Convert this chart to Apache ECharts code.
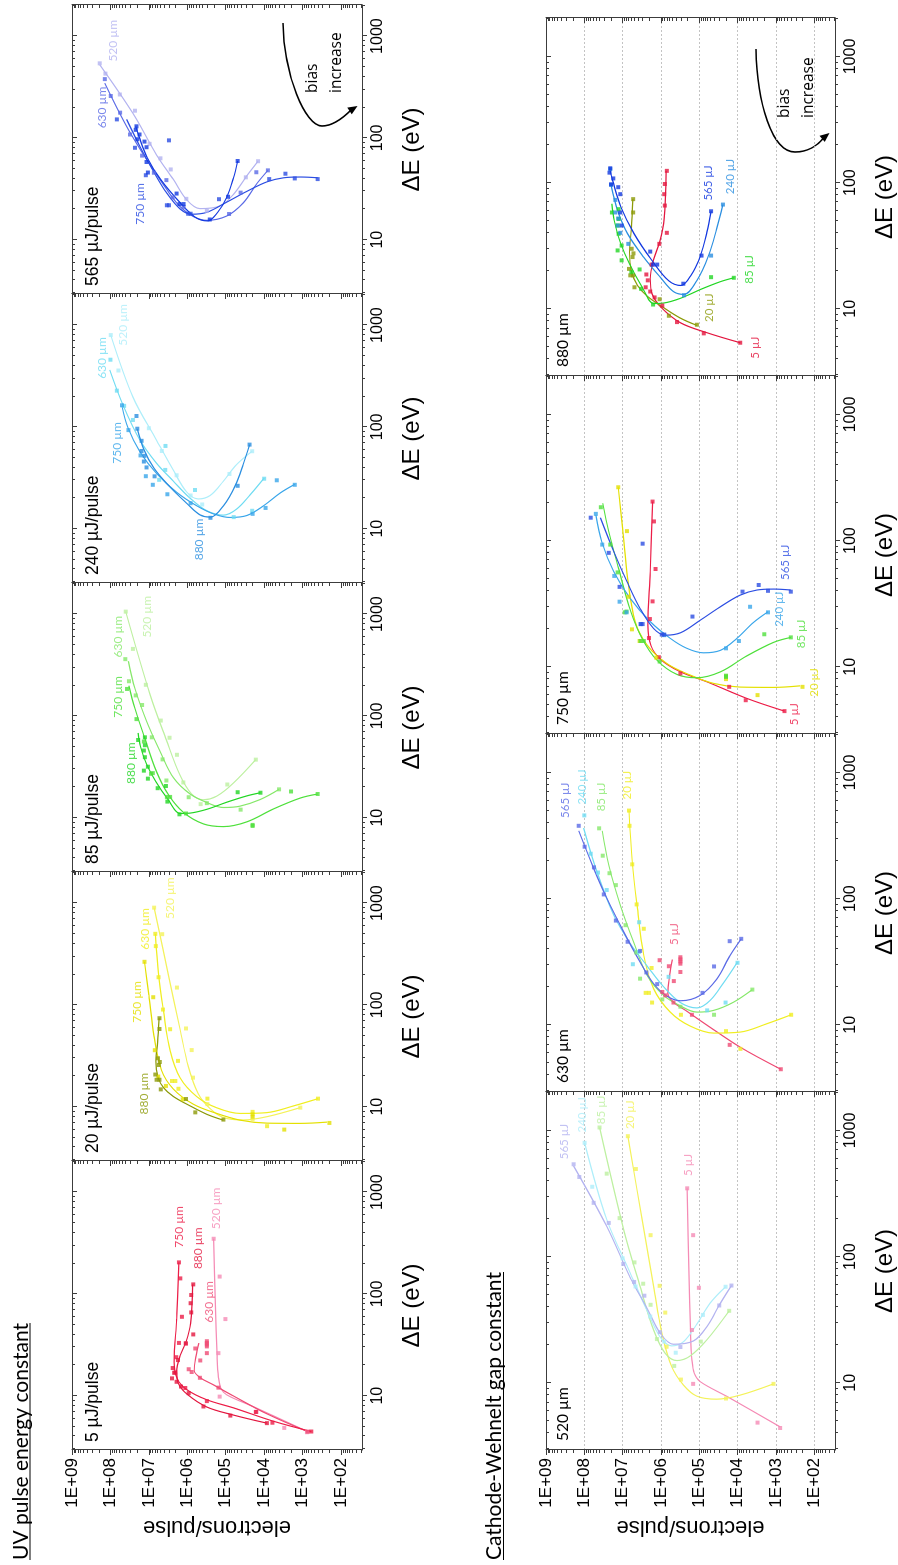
<!DOCTYPE html>
<html><head><meta charset="utf-8">
<script src="https://cdn.jsdelivr.net/npm/echarts@6/dist/echarts.min.js"></script>
<style>
html,body{margin:0;padding:0;background:#fff;width:898px;height:1565px;overflow:hidden}
#chart{position:absolute;left:0;top:1565px;width:1565px;height:898px;transform-origin:0 0;transform:rotate(-90deg);background:#fff}
</style></head><body><div id="chart"></div>
<script>
// ---------- categories / ticks ----------
const energies = ['5', '20', '85', '240', '565'];
const gaps = ['520', '630', '750', '880'];
const energyTitles = ['5 µJ/pulse', '20 µJ/pulse', '85 µJ/pulse', '240 µJ/pulse', '565 µJ/pulse'];
const gapTitles = ['520 µm', '630 µm', '750 µm', '880 µm'];
const xMajor = [10, 100, 1000];
const xTickLabels = ['10', '100', '1000'];
const xMinor = [3,4,5,6,7,8,9,20,30,40,50,60,70,80,90,200,300,400,500,600,700,800,900,2000];
const yMajor = [1e2, 1e3, 1e4, 1e5, 1e6, 1e7, 1e8, 1e9];
const yTickLabels = ['1E+02','1E+03','1E+04','1E+05','1E+06','1E+07','1E+08','1E+09'];

// ---------- data: [ΔE (eV), electrons/pulse] ----------
// 5 µJ
const pts_5_520 = [[4.38,771],[4.83,3000],[9.8,1.44e5],[26.2,1.55e5],[56.6,1.02e5],[148,1.44e5],[348,2.06e5]];
const fit_5_520 = [[4.47,771],[7.8,1.9e4],[10.2,9.4e4],[11.9,1.35e5],[15.2,1.55e5],[24.7,1.68e5],[79,1.86e5],[348,2.06e5]];
const pts_5_630 = [[4.44,741],[6.93,1.6e4],[12,1.55e5],[15,4.7e5],[17.1,7.7e5],[18.2,9.2e5],[22.2,4.6e5],[29.1,6.2e5],[32.5,1.08e6],[26.2,3.1e5],[30.5,3.1e5],[31.8,3.1e5],[33,3.1e5],[34.3,3.1e5]];
const fit_5_630 = [[4.44,741],[6.64,8.5e3],[9.94,6.3e4],[12.8,2.1e5],[15.1,4.7e5],[17.7,6.6e5],[24.7,5.9e5],[32.9,5.0e5]];
const pts_5_750 = [[4.45,594],[5.43,6.1e3],[6.93,1.65e4],[8.85,3.1e5],[11.9,1.13e6],[16.9,2.05e6],[23.9,1.94e6],[33,1.65e6],[59.6,1.38e6],[142,1.52e6],[204,1.65e6]];
const fit_5_750 = [[4.45,594],[5.61,5.7e3],[7.6,6.3e4],[9.12,3.1e5],[11.5,1.04e6],[14.7,1.82e6],[21.4,2.2e6],[56.8,1.9e6],[204,1.65e6]];
const pts_5_880 = [[5.38,8.5e3],[6.38,7.6e4],[7.84,3.8e5],[10.6,9.2e5],[12.3,1.46e6],[13.7,1.9e6],[14.8,2.5e6],[16.8,2.2e6],[18.7,2.4e6],[22.4,1.75e6],[32.7,1.1e6],[40,7.0e5],[65.8,7.9e5],[81,8.2e5],[97.5,7.9e5],[124,7.0e5]];
const fit_5_880 = [[5.38,8.5e3],[6.46,6.3e4],[7.75,3.1e5],[10.3,1e6],[13.1,1.7e6],[17.3,1.9e6],[24.6,1.55e6],[33.7,1.08e6],[51.5,8.2e5],[124,7.3e5]];
// 20 µJ
const pts_20_520 = [[9.8,1150],[7.5,2.0e4],[10.6,3.0e5],[19.3,7.1e5],[36,7.7e5],[58.7,1.08e6],[148,1.86e6],[495,4.5e6],[902,7.3e6]];
const fit_20_520 = [[9.8,1150],[7.98,8.5e3],[7.41,3.5e4],[7.83,1.15e5],[9.58,2.56e5],[13.4,5.2e5],[24.7,9.4e5],[58,1.55e6],[197,3.1e6],[902,7.3e6]];
const pts_20_630 = [[12,398],[8.9,2.0e4],[6.44,8.4e3],[12,3.0e5],[15,1.7e6],[17.9,2.5e6],[17.9,2.05e6],[28.2,1.75e6],[57.7,2.8e6],[90,4.3e6],[187,5.6e6],[378,6.6e6],[499,6.8e6]];
const fit_20_630 = [[12,398],[10.2,1.7e3],[8.75,8.5e3],[8.59,4.2e4],[9.76,1.72e5],[12.6,5.7e5],[19.3,1.55e6],[35.6,2.8e6],[89,4.2e6],[197,5.6e6],[499,6.8e6]];
const pts_20_750 = [[6.93,201],[5.96,3.0e3],[7.98,2.0e4],[8.4,2.0e4],[11.8,1.32e6],[16,3.6e6],[19.8,5.7e6],[35.9,7.0e6],[119,7.7e6],[265,1.3e7]];
const fit_20_750 = [[7.06,232],[6.86,1150],[6.9,8.5e3],[7.38,4.2e4],[8.59,1.72e5],[10.6,7.0e5],[14.9,2.3e6],[22.8,4.7e6],[50,7.4e6],[125,1e7],[265,1.3e7]];
const pts_20_880 = [[7.47,1.15e5],[8.8,6.2e5],[11.9,1.08e6],[14.8,4.9e6],[18.4,6.3e6],[18.4,5.3e6],[20.7,6.8e6],[25.7,5.5e6],[27.5,5.2e6],[29.9,5.8e6],[58,5.3e6],[74,5.3e6]];
const fit_20_880 = [[7.38,1.15e5],[8.43,3.1e5],[10.2,8.5e5],[12.6,2.3e6],[15.3,4.1e6],[19.5,5.8e6],[28.1,6.6e6],[43,5.9e6],[74,5.4e6]];
// 85 µJ
const pts_85_520 = [[37.2,1.65e4],[21.2,9.1e4],[13.6,4.5e5],[22.2,1.27e6],[41.5,1.86e6],[61,2.9e6],[90,4.9e6],[202,1.2e7],[455,2.6e7],[1057,4.0e7]];
const fit_85_520 = [[37.2,1.65e4],[21.9,6.3e4],[16.3,1.72e5],[15,3.8e5],[17.1,7.7e5],[26.2,1.55e6],[58,3.5e6],[164,9.4e6],[1057,4.0e7]];
const pts_85_630 = [[19,4.1e3],[12,4.1e4],[13.9,3.1e5],[15.9,9.2e5],[23.2,3.5e6],[37.4,4.4e6],[61.6,8.4e6],[128,1.5e7],[159,2.2e7],[219,3.3e7],[361,4.1e7]];
const fit_85_630 = [[19,4.1e3],[15.1,1.27e4],[13,4.2e4],[12.6,1.15e5],[14.1,3.1e5],[17.1,8.5e5],[24.7,2.3e6],[45.5,5.2e6],[89,1.15e7],[185,2.3e7],[345,3.4e7]];
const pts_85_750 = [[17.1,406],[18.1,2.0e3],[8.5,2.0e4],[8.3,2.0e4],[11,1.08e6],[16,2.8e6],[16,3.4e6],[27.4,7.9e6],[27,8.8e6],[56,1.35e7],[93,2.1e7],[184,3.7e7]];
const fit_85_750 = [[17.1,406],[15.6,1150],[12.2,5.7e3],[9.12,2.8e4],[8.18,1.15e5],[8.69,3.8e5],[11.3,1.27e6],[16.8,3.1e6],[28.2,6.3e6],[60,1.27e7],[118,2.3e7],[198,3.3e7]];
const pts_85_880 = [[17.6,1.25e4],[17.8,4.9e4],[10.8,1.6e6],[14.4,3.3e6],[20.5,3.6e6],[19.5,5.9e6],[24.2,1.06e7],[29,1.35e7],[31.7,1.06e7],[39.3,1.27e7],[45.7,1.35e7],[51.5,1.27e7],[58,1.9e7],[61.6,1.27e7]];
const fit_85_880 = [[17.6,1.25e4],[16.4,2.8e4],[14.2,9.4e4],[12.1,3.1e5],[11.1,8.5e5],[11,1.55e6],[14.9,3.1e6],[22.7,6.6e6],[33.7,1.15e7],[50,1.65e7],[68,1.9e7]];
// 240 µJ
const pts_240_520 = [[57.7,2.05e4],[34.5,8.0e4],[17.3,4.1e5],[21.2,8.2e5],[33.5,1.9e6],[58,4.6e6],[97,1e7],[358,6.2e7],[798,9.8e7]];
const fit_240_520 = [[57.7,2.05e4],[42.7,5.2e4],[29.3,1.15e5],[21.2,2.56e5],[19.6,5.2e5],[23,1.04e6],[37.4,2.3e6],[74,6.3e6],[197,2.6e7],[798,9.8e7]];
const pts_240_630 = [[31,1e4],[15,2.05e4],[13,6.2e4],[24,6.3e5],[37.8,3.75e6],[30.2,5.4e6],[65,3.7e6],[117,2.6e7],[161,4.4e7],[227,6.8e7],[457,1.0e8]];
const fit_240_630 = [[31.5,1e4],[21.6,2.3e4],[15.6,5.2e4],[13.6,1.15e5],[15,3.1e5],[20,8.5e5],[29.3,2.3e6],[44,6.3e6],[74,1.7e7],[164,4.7e7],[363,1.04e8]];
const pts_240_750 = [[27,1.6e3],[29.9,4.7e3],[16,9.2e3],[14,2.0e4],[17.8,8.2e5],[21.8,3.3e6],[27,7.9e6],[32.8,1.2e7],[52.5,1.65e7],[93,3.4e7],[163,5.0e7]];
const fit_240_750 = [[27.3,1.6e3],[22.5,3.8e3],[16.8,1.04e4],[13.5,2.8e4],[12.9,7.7e4],[14,2.1e5],[16.8,5.7e5],[22.8,1.9e6],[34.8,6.3e6],[56.8,1.7e7],[98,3.5e7],[160,5.0e7]];
const pts_240_880 = [[67,2.4e4],[26.4,4.9e4],[12.8,2.5e5],[32.7,7.1e6],[40,1.15e7],[45.7,1.35e7],[52,1.3e7],[58,1.55e7],[73,1.55e7],[96,2.0e7],[128,2.1e7]];
const fit_240_880 = [[67,2.4e4],[43,3.5e4],[26.4,5.7e4],[16.8,1.15e5],[13,2.5e5],[13.7,4.7e5],[17.8,1.04e6],[25.6,2.8e6],[39.3,7.4e6],[60,1.35e7],[95,2.0e7]];
// 565 µJ
const pts_565_520 = [[59,1.44e4],[41,3.0e4],[19.2,3.1e5],[25.2,1.06e6],[49,2.7e6],[63,5.0e6],[87.5,9.6e6],[185,2.3e7],[267,5.7e7],[428,1.35e8],[540,1.9e8]];
const fit_565_520 = [[59,1.44e4],[42.7,2.8e4],[27.9,6.3e4],[21.5,1.4e5],[20.2,4.7e5],[24.7,1.04e6],[39,2.3e6],[68,6.3e6],[174,2.6e7],[523,1.9e8]];
const pts_565_630 = [[48,8e3],[46,1.6e4],[29,4.1e4],[17.9,8.2e4],[21,1.25e6],[26,2.4e6],[38.5,3.5e6],[45.5,7.4e6],[67,1.5e7],[108,3.1e7],[177,5.6e7],[258,9.8e7],[378,1.4e8]];
const fit_565_630 = [[48,8e3],[35.6,1.55e4],[23,3.5e4],[17.1,9.4e4],[15.5,3.1e5],[16.9,7.0e5],[21.2,1.55e6],[31.5,3.5e6],[54.6,9.4e6],[101,2.6e7],[174,5.7e7],[345,1.4e8]];
const pts_565_750 = [[39.4,406],[40,1.6e3],[44.5,2.8e3],[39.4,7.4e3],[25,1.5e5],[18,8.2e5],[18,9.5e5],[21.8,3.0e6],[21.8,3.4e6],[94.6,3.0e6],[43,1.2e7],[80,2.3e7],[152,6.8e7]];
const fit_565_750 = [[40.6,406],[41.3,1150],[40.6,3.1e3],[37,8.5e3],[29.9,2.8e4],[23.4,9.4e4],[18.6,3.1e5],[17.8,7.7e5],[20.1,1.55e6],[29,3.5e6],[47.3,7.7e6],[82,1.7e7],[152,3.8e7]];
const pts_565_880 = [[59.3,4.9e4],[26.4,8.7e4],[15.8,2.6e5],[22.4,1.6e6],[22.4,1.25e6],[28.4,1.9e6],[45.7,1.06e7],[58,1.15e7],[81,1.15e7],[92,1.3e7],[108,1.75e7],[97,2.0e7],[130,2.1e7],[120,2.2e7]];
const fit_565_880 = [[59.3,4.9e4],[40.5,6.3e4],[26.1,9.4e4],[18.4,1.65e5],[15.3,3.0e5],[16.7,6.3e5],[24.2,1.72e6],[39.3,5.0e6],[63.8,1.1e7],[104,1.82e7],[130,2.2e7]];

// ---------- curve name tags: [text, ΔE, electrons, series key] ----------
const tags_top_5 = [['750 µm',284,1.67e6,'750'],['880 µm',175,5.3e5,'880'],['630 µm',52,2.7e5,'630'],['520 µm',431,1.75e5,'520']];
const tags_top_20 = [['880 µm',8.4,1.32e7,'880'],['750 µm',66.7,2.05e7,'750'],['630 µm',348,1.27e7,'630'],['520 µm',697,2.8e6,'520']];
const tags_top_85 = [['880 µm',21.4,2.9e7,'880'],['750 µm',96,6.5e7,'750'],['630 µm',374,6.5e7,'630'],['520 µm',587,1.1e7,'520']];
const tags_top_240 = [['880 µm',4.89,5.0e5,'880'],['750 µm',43.4,6.8e7,'750'],['630 µm',296,1.68e8,'630'],['520 µm',627,4.6e7,'520']];
const tags_top_565 = [['750 µm',14,1.68e7,'750'],['630 µm',124,1.68e8,'630'],['520 µm',561,8.3e7,'520']];
const tags_bot_520 = [['565 µJ',591,3.3e8,'565'],['240 µJ',964,1.1e8,'240'],['85 µJ',1122,3.5e7,'85'],['20 µJ',1026,6.3e6,'20'],['5 µJ',436,1.9e5,'5']];
const tags_bot_630 = [['565 µJ',436,3.1e8,'565'],['240 µJ',556,1.15e8,'240'],['85 µJ',492,3.6e7,'85'],['20 µJ',610,7.4e6,'20'],['5 µJ',42.8,4.5e5,'5']];
const tags_bot_750 = [['565 µJ',48.7,571,'565'],['240 µJ',20.7,802,'240'],['85 µJ',14,210,'85'],['20 µJ',5.78,100,'20'],['5 µJ',3.44,333,'5']];
const tags_bot_880 = [['565 µJ',72,5.8e4,'565'],['240 µJ',81,1.55e4,'240'],['85 µJ',15.8,4.9e3,'85'],['20 µJ',7.84,5.4e4,'20'],['5 µJ',4.02,3.5e3,'5']];

// ---------- lookup tables built from the arrays ----------
const PTS = {
  '5_520':pts_5_520,'5_630':pts_5_630,'5_750':pts_5_750,'5_880':pts_5_880,
  '20_520':pts_20_520,'20_630':pts_20_630,'20_750':pts_20_750,'20_880':pts_20_880,
  '85_520':pts_85_520,'85_630':pts_85_630,'85_750':pts_85_750,'85_880':pts_85_880,
  '240_520':pts_240_520,'240_630':pts_240_630,'240_750':pts_240_750,'240_880':pts_240_880,
  '565_520':pts_565_520,'565_630':pts_565_630,'565_750':pts_565_750,'565_880':pts_565_880
};
const FIT = {
  '5_520':fit_5_520,'5_630':fit_5_630,'5_750':fit_5_750,'5_880':fit_5_880,
  '20_520':fit_20_520,'20_630':fit_20_630,'20_750':fit_20_750,'20_880':fit_20_880,
  '85_520':fit_85_520,'85_630':fit_85_630,'85_750':fit_85_750,'85_880':fit_85_880,
  '240_520':fit_240_520,'240_630':fit_240_630,'240_750':fit_240_750,'240_880':fit_240_880,
  '565_520':fit_565_520,'565_630':fit_565_630,'565_750':fit_565_750,'565_880':fit_565_880
};
const TOP_TAGS = [tags_top_5, tags_top_20, tags_top_85, tags_top_240, tags_top_565];
const BOT_TAGS = [tags_bot_520, tags_bot_630, tags_bot_750, tags_bot_880];

// ---------- styles ----------
const COLORS = {
  '5':  {'520':'#f58bb5','630':'#ef4b74','750':'#ec1d47','880':'#e3163f'},
  '20': {'520':'#f4f25a','630':'#f0ee22','750':'#e4e000','880':'#8c9a08'},
  '85': {'520':'#bdf0a0','630':'#86e86a','750':'#4fe03c','880':'#22d624'},
  '240':{'520':'#aeeefa','630':'#6fdcf2','750':'#3aa6ea','880':'#2a8ee0'},
  '565':{'520':'#b3b3f0','630':'#5a6ae6','750':'#2c4ee2','880':'#1238e0'}
};
const FONT = '"Liberation Sans", Arial, sans-serif';
const LFONT = 'Lato, "Open Sans", sans-serif';
const AX = '#3c3c3c';
const X_MIN = 2.93, X_MAX = 2020, Y_MIN = 28.5, Y_MAX = 1e9;

const yMinor = [];
for (let n = 1; n <= 8; n++) for (let k = 2; k <= 9; k++) { const v = k * Math.pow(10, n); if (v >= Y_MIN) yMinor.push(v); }

// ---------- layout ----------
const grids = [];
energies.forEach((e, i) => grids.push({left: 115 + i * 289, top: 72, width: 289, height: 290}));
gaps.forEach((g, j) => grids.push({left: 115 + j * 358, top: 546, width: 358, height: 289}));

const xAxis = [], yAxis = [], series = [], graphic = [];

function baseX(gi) { return {type:'log', logBase:10, gridIndex:gi, min:X_MIN, max:X_MAX, splitLine:{show:false}, axisLine:{show:false, onZero:false}, axisLabel:{show:false}, axisTick:{show:false}}; }
function baseY(gi) { return {type:'log', logBase:10, gridIndex:gi, min:Y_MIN, max:Y_MAX, splitLine:{show:false}, axisLine:{show:false, onZero:false}, axisLabel:{show:false}, axisTick:{show:false}}; }

grids.forEach((gr, gi) => {
  const bottomRow = gi >= 5;
  const first = gi === 0 || gi === 5;
  // x: bottom major (labels + name)
  xAxis.push(Object.assign(baseX(gi), {
    position:'bottom',
    axisLine:{show:true, onZero:false, lineStyle:{color:AX, width:1}},
    axisTick:{show:true, inside:false, length:5, customValues:xMajor, lineStyle:{color:AX}},
    axisLabel:{show:true, customValues:xMajor, margin:8, fontSize:16, color:'#000', fontFamily:FONT,
      formatter: v => xTickLabels[Math.round(Math.log10(v)) - 1]},
    name:'ΔE (eV)', nameLocation:'middle', nameGap:38,
    nameTextStyle:{fontSize:24, color:'#000', fontFamily:FONT}
  }));
  // x: bottom minor
  xAxis.push(Object.assign(baseX(gi), {position:'bottom', axisTick:{show:true, inside:false, length:3, customValues:xMinor, lineStyle:{color:AX}}}));
  // x: top mirror major / minor (inward)
  xAxis.push(Object.assign(baseX(gi), {position:'top', axisLine:{show:true, onZero:false, lineStyle:{color:AX, width:1}},
    axisTick:{show:true, inside:true, length:5, customValues:xMajor, lineStyle:{color:AX}}}));
  xAxis.push(Object.assign(baseX(gi), {position:'top', axisTick:{show:true, inside:true, length:3, customValues:xMinor, lineStyle:{color:AX}}}));

  // y: left major
  const yl = Object.assign(baseY(gi), {
    position:'left',
    axisLine:{show:true, onZero:false, lineStyle:{color:AX, width:1}},
    axisTick:{show:true, inside:false, length:5, customValues:yMajor, lineStyle:{color:AX}},
    axisLabel:{show:first, customValues:yMajor, margin:8, fontSize:17, color:'#000', fontFamily:FONT,
      formatter: v => yTickLabels[Math.round(Math.log10(v)) - 2]},
    splitLine:{show:bottomRow, lineStyle:{color:'#b4b4b4', type:[2,2], width:0.8}}
  });
  if (first) Object.assign(yl, {name:'electrons/pulse', nameLocation:'middle', nameGap:66,
    nameTextStyle:{fontSize:22, color:'#000', fontFamily:FONT}});
  yAxis.push(yl);
  yAxis.push(Object.assign(baseY(gi), {position:'left', axisTick:{show:true, inside:false, length:3, customValues:yMinor, lineStyle:{color:AX}}}));
  // y: right mirror (ticks pointing left, inward)
  yAxis.push(Object.assign(baseY(gi), {position:'right', axisLine:{show:true, onZero:false, lineStyle:{color:AX, width:1}},
    axisTick:{show:true, inside:true, length:5, customValues:yMajor, lineStyle:{color:AX}}}));
  yAxis.push(Object.assign(baseY(gi), {position:'right', axisTick:{show:true, inside:true, length:3, customValues:yMinor, lineStyle:{color:AX}}}));
});

function addCurve(gi, en, gp) {
  const key = en + '_' + gp, color = COLORS[en][gp];
  series.push({type:'line', xAxisIndex:4*gi, yAxisIndex:4*gi, data:FIT[key], smooth:0.35, symbol:'none',
    showSymbol:false, silent:true, lineStyle:{color, width:1.2}, z:2, animation:false});
  series.push({type:'scatter', xAxisIndex:4*gi, yAxisIndex:4*gi, data:PTS[key], symbol:'rect', symbolSize:4,
    silent:true, itemStyle:{color}, z:3, animation:false});
}
function addTags(gi, tags, colorOf) {
  series.push({type:'scatter', xAxisIndex:4*gi, yAxisIndex:4*gi, symbolSize:0.1, silent:true, z:5,
    itemStyle:{color:'rgba(0,0,0,0)'},
    data: tags.map(t => ({value:[t[1], t[2]], name:t[0], label:{color:colorOf(t[3])}})),
    label:{show:true, position:'right', distance:0, formatter:'{b}', fontFamily:LFONT, fontSize:gi < 5 ? 12 : 11.5}});
}

energies.forEach((en, i) => {
  gaps.forEach(gp => addCurve(i, en, gp));
  addTags(i, TOP_TAGS[i], gp => COLORS[en][gp]);
});
gaps.forEach((gp, j) => {
  energies.forEach(en => addCurve(5 + j, en, gp));
  addTags(5 + j, BOT_TAGS[j], en => COLORS[en][gp]);
});

// ---------- text / annotations ----------
function txt(x, y, text, size, family, fill) {
  return {type:'text', x, y, silent:true, z:100,
    style:{text, fontSize:size, fontFamily:family, fill:fill || '#000', align:'left', verticalAlign:'middle', textAlign:'left', textVerticalAlign:'middle'}};
}
graphic.push(txt(5, 21, 'UV pulse energy constant', 21, LFONT));
graphic.push({type:'line', silent:true, shape:{x1:5, y1:30, x2:242, y2:30}, style:{stroke:'#000', lineWidth:1.2}});
graphic.push(txt(5, 494, 'Cathode-Wehnelt gap constant', 21, LFONT));
graphic.push({type:'line', silent:true, shape:{x1:5, y1:503.5, x2:293, y2:503.5}, style:{stroke:'#000', lineWidth:1.2}});
energyTitles.forEach((t, i) => graphic.push(txt(grids[i].left + 8, grids[i].top + 21.5, t, 17.5, FONT)));
gapTitles.forEach((t, j) => graphic.push(txt(grids[5 + j].left + 9, grids[5 + j].top + 16.5, t, 15.5, LFONT)));

function arrow(p) {
  graphic.push({type:'bezierCurve', silent:true, shape:{x1:p[0], y1:p[1], cpx1:p[2], cpy1:p[3], cpx2:p[4], cpy2:p[5], x2:p[6], y2:p[7]}, style:{stroke:'#000', lineWidth:1.6, fill:null}});
  graphic.push({type:'bezierCurve', silent:true, shape:{x1:p[6], y1:p[7], cpx1:p[8], cpy1:p[9], cpx2:p[10], cpy2:p[11], x2:p[12], y2:p[13]}, style:{stroke:'#000', lineWidth:1.6, fill:null}});
  graphic.push({type:'polygon', silent:true, shape:{points:[[p[14], p[15]], [p[16], p[17]], [p[18], p[19]]]}, style:{fill:'#000'}});
}
arrow([1542,283, 1490,284, 1439,305, 1439,322, 1439,334, 1448,344, 1455,351, 1459,357.5, 1457.4,347.3, 1450.7,351.7]);
arrow([1516,756, 1462,757, 1413,772, 1413,795, 1413,808, 1420,818, 1427,823.5, 1432,829.5, 1429.2,819.6, 1423.1,824.8]);
const BFONT = '"Open Sans", Lato, sans-serif';
graphic.push(txt(1472, 312.5, 'bias', 15.5, BFONT));
graphic.push(txt(1472, 337, 'increase', 15.5, BFONT));
graphic.push(txt(1447, 785, 'bias', 15.5, BFONT));
graphic.push(txt(1447, 809, 'increase', 15.5, BFONT));

const chart = echarts.init(document.getElementById('chart'), null, {renderer:'canvas'});
chart.setOption({animation:false, backgroundColor:'#fff', grid:grids, xAxis, yAxis, series, graphic});
</script></body></html>
